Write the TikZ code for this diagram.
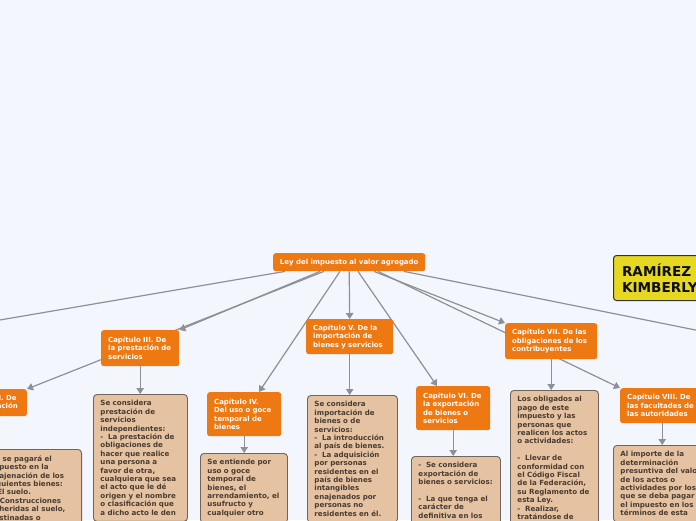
\documentclass[tikz,border=0pt]{standalone}
\usepackage{fontspec}
\setmainfont{DejaVu Sans}
\usetikzlibrary{arrows.meta}
\definecolor{bgc}{HTML}{F3F6FD}
\definecolor{orng}{HTML}{EE7812}
\definecolor{tanf}{HTML}{E4C2A2}
\definecolor{tanb}{HTML}{6F655C}
\definecolor{txt}{HTML}{4A3C30}
\definecolor{connc}{HTML}{8C9098}
\definecolor{yel}{HTML}{E6D820}
\pgfdeclarelayer{back}
\pgfdeclarelayer{edges}
\pgfsetlayers{back,edges,main}
\tikzset{
  chap/.style={fill=orng, rounded corners=2.5pt, text=white,
    font=\bfseries\fontsize{6.95}{8.5}\selectfont, align=left,
    inner xsep=7pt, inner ysep=0pt, anchor=north west},
  tbox/.style={fill=tanf, draw=tanb, line width=0.9pt, rounded corners=3.5pt, text=txt,
    font=\bfseries\fontsize{7.1}{8.4}\selectfont, align=left,
    inner xsep=7pt, inner ysep=6.1pt, anchor=north west},
  conn/.style={draw=connc, line width=1.2pt, -{Triangle[length=6pt,width=7.5pt]}},
}
\begin{document}
\begin{tikzpicture}[x=1pt,y=-1pt]
\useasboundingbox (0,0) rectangle (696,520);
\begin{pgfonlayer}{back}
\fill[bgc] (0,0) rectangle (696,520);
\end{pgfonlayer}
\clip (0,0) rectangle (696,520);

% root
\node[chap, anchor=north west, minimum width=152pt, minimum height=18pt, align=center, inner xsep=0pt] (root) at (273,253) {Ley del impuesto al valor agregado};

% chapters
\node[chap, anchor=north east, inner xsep=9pt, minimum height=27pt] (c2) at (27,389) {Capítulo II. De\\la enajenación};
\node[chap, text width=64pt, minimum height=36pt] (c3) at (101,330) {Capítulo III. De\\la prestación de\\servicios};
\node[chap, text width=60pt, minimum height=44pt] (c4) at (207,392) {Capítulo IV.\\Del uso o goce\\temporal de\\bienes};
\node[chap, text width=73pt, minimum height=35pt] (c5) at (306,319) {Capítulo V. De la\\importación de\\bienes y servicios};
\node[chap, text width=60pt, minimum height=44pt] (c6) at (416,386) {Capítulo VI. De\\la exportación\\de bienes o\\servicios};
\node[chap, text width=78pt, minimum height=36pt] (c7) at (505,323) {Capítulo VII. De las\\obligaciones de los\\contribuyentes};
\node[chap, text width=70pt, minimum height=35pt] (c8) at (620,388) {Capítulo VIII. De\\las facultades de\\las autoridades};

% name box
\node[anchor=north west, fill=yel, draw=black!80, line width=1pt, rounded corners=3pt,
  font=\bfseries\fontsize{13.6}{16}\selectfont, align=left, text=black!95,
  inner xsep=8.5pt, minimum height=45pt] (name) at (613,255) {RAMÍREZ\\KIMBERLY};

% text boxes
\node[tbox, anchor=north east, text width=85pt] (t2) at (82,449) {No se pagará el\\impuesto en la\\enajenación de los\\siguientes bienes:\\I. El suelo.\\II. Construcciones\\adheridas al suelo,\\destinadas o\\};
\node[tbox, text width=80pt] (t3) at (93,394) {Se considera\\prestación de\\servicios\\independientes:\\-\ \ La prestación de\\obligaciones de\\hacer que realice\\una persona a\\favor de otra,\\cualquiera que sea\\el acto que le dé\\origen y el nombre\\o clasificación que\\a dicho acto le den\\};
\node[tbox, text width=73pt] (t4) at (200,453) {Se entiende por\\uso o goce\\temporal de\\bienes, el\\arrendamiento, el\\usufructo y\\cualquier otro\\};
\node[tbox, text width=76pt] (t5) at (307,395) {Se considera\\importación de\\bienes o de\\servicios:\\-\ \ La introducción\\al país de bienes.\\-\ \ La adquisición\\por personas\\residentes en el\\país de bienes\\intangibles\\enajenados por\\personas no\\residentes en él.\\};
\node[tbox, text width=75pt] (t6) at (411,456) {-\ \ Se considera\\exportación de\\bienes o servicios:\\[8.4pt]-\ \ La que tenga el\\carácter de\\definitiva en los\\};
\node[tbox, text width=74pt] (t7) at (510,390) {Los obligados al\\pago de este\\impuesto y las\\personas que\\realicen los actos\\o actividades:\\[8.4pt]-\ \ Llevar de\\conformidad con\\el Código Fiscal\\de la Federación,\\su Reglamento de\\esta Ley.\\-\ \ Realizar,\\tratándose de\\};
\node[tbox, text width=84pt] (t8) at (613,445) {Al importe de la\\determinación\\presuntiva del valor\\de los actos o\\actividades por los\\que se deba pagar\\el impuesto en los\\términos de esta\\};

% free ends of connectors to chapters outside the picture
\coordinate (offL) at (-100,337);
\coordinate (offR) at (800,351);

\begin{pgfonlayer}{edges}
\draw[conn] ([xshift=12pt]root.south west) -- (offL);
\draw[conn] ([xshift=47pt]root.south west) -- (c3.north east);
\draw[conn] ([xshift=51pt]root.south west) -- (c2.north east);
\draw[conn] ([xshift=67pt]root.south west) -- ([xshift=52pt]c4.north west);
\draw[conn] (root.south) -- (c5.south |- c5.north);
\draw[conn] ([xshift=85pt]root.south west) -- ([xshift=21pt]c6.north west);
\draw[conn] ([xshift=101pt]root.south west) -- (c7.north west);
\draw[conn] ([xshift=105pt]root.south west) -- (c8.north west);
\draw[conn] ([xshift=131pt]root.south west) -- (offR);
\draw[conn] (c2.south) -- (c2.south |- t2.north);
\draw[conn] (c3.south) -- (c3.south |- t3.north);
\draw[conn] (c4.south) -- (c4.south |- t4.north);
\draw[conn] (c5.south) -- (c5.south |- t5.north);
\draw[conn] (c6.south) -- (c6.south |- t6.north);
\draw[conn] (c7.south) -- (c7.south |- t7.north);
\draw[conn] (c8.south) -- (c8.south |- t8.north);
\end{pgfonlayer}
\end{tikzpicture}
\end{document}
